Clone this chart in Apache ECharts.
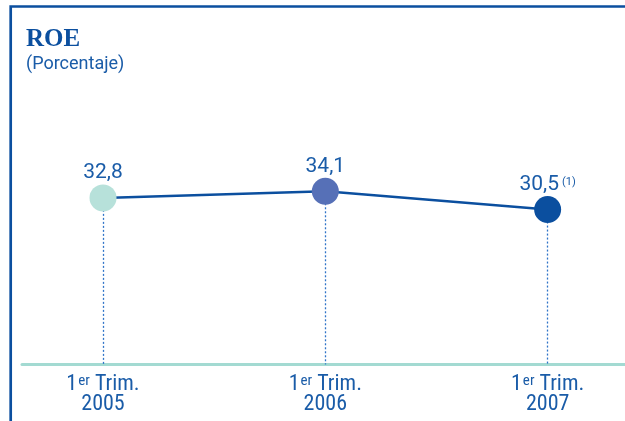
<!DOCTYPE html>
<html><head><meta charset="utf-8">
<script src="https://cdn.jsdelivr.net/npm/echarts@6/dist/echarts.min.js"></script>
<style>html,body{margin:0;padding:0;background:#fff}#c{width:625px;height:421px}</style>
</head><body><div id="c"></div>
<script>
const years = ['2005', '2006', '2007'];
const periodPrefix = '1';
const periodSup = 'er';
const periodSuffix = ' Trim.';
const roe = [32.8, 34.1, 30.5];
const valueLabels = ['32,8', '34,1', '30,5'];
const footnotes = ['', '', '(1)'];
const pointColors = ['#b7e1da', '#5670b7', '#0b4f9f'];

const blue = '#1a5ca8';
const condFont = '"Roboto Condensed", Roboto, sans-serif';
const numFont = 'Roboto, sans-serif';

const chart = echarts.init(document.getElementById('c'), null, {renderer: 'canvas'});
chart.setOption({
  animation: false,
  backgroundColor: '#ffffff',
  title: {
    text: 'ROE',
    subtext: '(Porcentaje)',
    left: 26, top: 27, itemGap: 3, padding: 0,
    textStyle: {fontFamily: '"Liberation Serif", serif', fontWeight: 'bold', fontSize: 25, color: '#0b4f9f'},
    subtextStyle: {fontFamily: 'Roboto, sans-serif', fontSize: 18, color: blue}
  },
  graphic: [{
    type: 'polyline', silent: true,
    shape: {points: [[10.7, 421], [10.7, 6.5], [625, 6.5]]},
    style: {stroke: '#0b4f9f', lineWidth: 2.7, fill: null}
  }],
  grid: {left: 22, right: 0, top: 59.7, bottom: 56.5},
  xAxis: {
    type: 'value', min: -0.3644, max: 2.348,
    splitLine: {show: false},
    axisTick: {show: false},
    axisLine: {show: true, onZero: true, lineStyle: {color: '#a3dad2', width: 3}},
    axisLabel: {
      customValues: years.map((y, i) => i),
      margin: 10,
      formatter: v => {
        const i = Math.round(v);
        return '{n|' + periodPrefix + '}{s|' + periodSup + '}{n|' + periodSuffix + '}\n{y|' + years[i] + '}';
      },
      rich: {
        n: {fontFamily: condFont, fontSize: 22, lineHeight: 20, color: blue},
        s: {fontFamily: condFont, fontSize: 15, lineHeight: 15, verticalAlign: 'bottom', color: blue, padding: [0, 0, 6, 1]},
        y: {fontFamily: condFont, fontSize: 22, lineHeight: 20, color: blue}
      }
    }
  },
  yAxis: {type: 'value', min: 0, max: 60, show: false},
  series: [{
    type: 'line',
    z: 3,
    data: roe.map((v, i) => ({
      value: [i, v],
      itemStyle: {color: pointColors[i]},
      label: {
        formatter: footnotes[i] ? '{v|' + valueLabels[i] + '}{f|' + footnotes[i] + '}' : '{v|' + valueLabels[i] + '}'
      }
    })),
    symbol: 'circle',
    symbolSize: 27,
    lineStyle: {color: '#0b4f9f', width: 2.5},
    label: {
      show: true, position: 'top', distance: 1,
      rich: {
        v: {fontFamily: numFont, fontSize: 21, lineHeight: 21, color: blue},
        f: {fontFamily: numFont, fontSize: 11, lineHeight: 11, verticalAlign: 'top', color: blue, padding: [3, 0, 0, 3]}
      }
    },
    markLine: {
      silent: true,
      z: 1,
      symbol: ['none', 'none'],
      label: {show: false},
      lineStyle: {color: '#2f74c8', type: [2, 2], width: 1.3},
      emphasis: {disabled: true},
      data: roe.map((v, i) => [{coord: [i, v]}, {coord: [i, 0]}])
    }
  }]
});
</script>
</body></html>
